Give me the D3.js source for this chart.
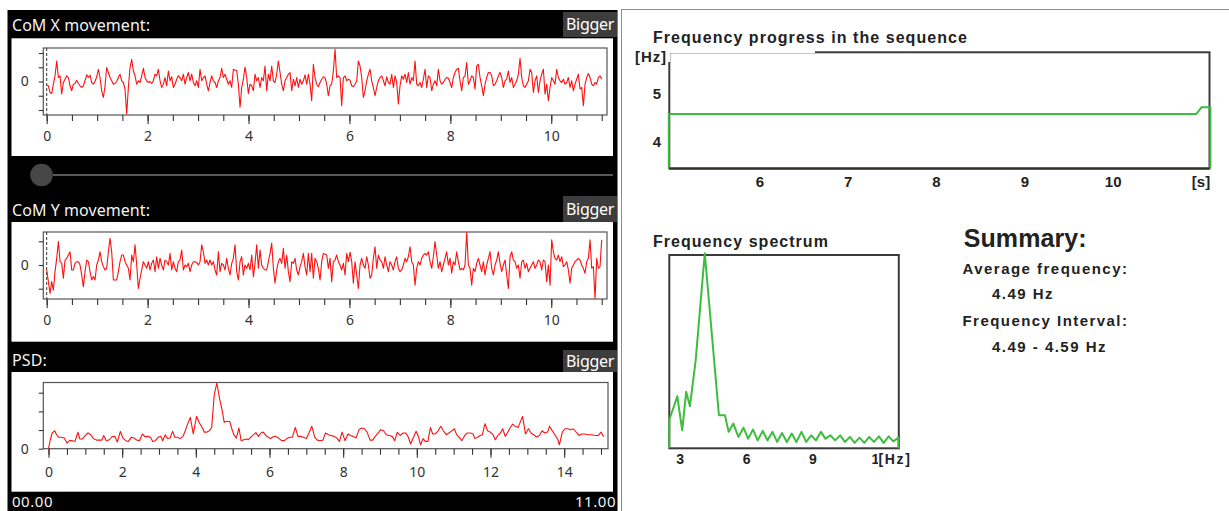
<!DOCTYPE html>
<html>
<head>
<meta charset="utf-8">
<script src="https://cdn.jsdelivr.net/npm/d3@7"></script>
<style>
  body { margin: 0; background: #fff; }
  svg { display: block; }
</style>
</head>
<body>
<svg id="chart" width="1229" height="511"></svg>
<script>
// ---- data ----
// CoM X / CoM Y, 11 s sampled evenly
var comDuration = 11;
var comX = [
  -0.26, -0.30, -0.77, -0.84, -0.19, 0.40, 1.44, 0.28, 0.40, -0.88, -0.07, 0.16, 0.40, 0.28, -0.30, -0.65, -0.19, -0.14, 0.09, -0.14,
  -0.30, -0.42, -0.30, 0.05, 0.47, 0.28, 0.44, -0.07, -0.19, 0, 0.33, 0.86, 0.28, -0.65, -1.12, -0.30, 0.98, 0.63, 0.28, 0.05,
  -0.19, -0.14, 0, 0.28, 0.51, 0.05, -0.07, -0.53, -2.28, -0.42, 0.98, 1.56, 0.74, 0.40, -0.19, 0.05, -0.07, 0.40, 0.93, 0.28,
  0.05, -0.07, 0, -0.14, 0.05, 0.51, 0.40, 0.86, 0.05, -0.42, -0.19, 0.28, -0.30, 0.74, 0.05, 0.33, -0.42, -0.19, 0.16, 0.40,
  0.28, 0.05, 0.51, -0.19, 0.28, 0.63, 0.05, 0.51, -0.07, -0.30, 0.05, -0.42, 0.86, 0.05, 0.28, 0.40, -0.19, -0.65, -0.07, 0.40,
  0.05, -0.07, -0.42, 0.05, 0.28, 0.93, 0.28, 0.51, 0.16, -0.19, 0.05, -0.42, 0.86, 0.79, 0.79, -0.19, -1.81, -0.42, 0.16, 1.02,
  0.28, -0.84, -0.19, -0.30, -0.65, 0.51, 0.05, 0.28, -0.42, 0.28, 0.05, 1.09, -0.65, 0.51, 0.05, 1.09, 0.05, -0.07, 0.51, 1.44,
  0.63, -0.19, -0.65, 0.05, 0.28, 0.51, 0.63, -0.65, 0.16, -0.30, 0.28, -0.42, 0.16, -0.19, 0.05, 0.47, -0.19, 0.51, -0.19, -1.35,
  1.21, 0.28, -0.19, -0.37, -0.07, 0.16, 0.33,
  0.28, -0.19, -1.00, -0.30, -0.19, 0.74, 2.26, 0.28, 0.40, 0.28, -1.70, 0.28, 0.40, 0.05, 0.16, 0.09, -0.30, -0.37, -0.19, 0.05,
  1.44, 1.09, 0.28, -1.12, -0.65, 0.05, 0.51, 0.86, 0.05, -0.42, -1.00, -0.42, 0.05, 0.28, 0.40, 0.05, -0.30, 0.33, -0.07, -0.19,
  0.51, -0.42, 0.40, -0.07, -1.58, -0.30, 0.40, 0.16, 0.51, -0.07, 0.63, -0.19, 0.28, 0.05, 1.44, -0.19, -0.30, -0.07, -0.42, 0.16,
  0.86, -0.42, 0.40, 0.28, -0.65, -0.19, 0.05, -0.30, 0.86, 0.05, -0.19, -0.07, 0.16, 0.28, 0.23, -0.07, -0.42, 0.28, 0.63, 0.86,
  0.93, 0.05, -0.65, 0.28, 0.40, 1.33, -0.19, 0.05, 0.40, 0.28, -0.53, 1.09, 1.21, 0.28, -0.30, -1.00, -0.19, 0.28, 0.63, 0.63,
  0.40, -0.30, -0.19, 0.05, 0.40, 0.63, 0.28, -0.42, 0.05, 0.16, 0.74, -0.07, 0.28, -0.42, -0.19, 0.05, 0.51, 1.63, 0.28, -0.30,
  -0.42, -0.19, 0.05, 0.86, 0.63, -0.77, 0.05, 0.40, -0.77, 0.05, 0.51, 0.86, -0.88, -0.19, -1.35, -0.42, 0.28, 0.05, -0.19, 0.86,
  0.28, 0.05, -0.07, 0.16, -0.19, -0.07, 0.28, -0.42, 0.05, -0.65, -0.19, 0.16, 0.51, -0.53, -0.42, -1.70, -0.19, 0.28, 0.56, 0.28,
  -0.19, -0.30, -0.07, -0.19, 0.28, 0.40, 0.16
];
var comY = [
  -0.21, -0.70, -1.20, -0.70, -1.06, -0.28, 0.28, 0.99, 0.14, 0.07, -0.56, 0.21, 0.28, 0.42, 0.56, -0.21, -0.21, 0.07, 0.14, 0.14,
  0, -0.42, -0.92, -0.28, 0.21, 0.14, -0.28, -0.63, -0.49, -0.63, 0, 0.21, 0.56, 0.14, -0.07, -0.21, -0.14, 0.56, 1.13, 0.56,
  -0.63, -0.63, -0.63, -0.28, 0.14, 0.42, 0.42, 0.14, 0, -0.14, -0.63, 0.42, 0.14, 0.85, 0, -0.99, -0.56, -0.21, 0.14, 0,
  -0.14, 0.14, -0.21, 0.07, 0.21, -0.28, 0.35, -0.14, 0.28, 0, -0.21, 0.21, 0.14, 0, 0.49, -0.21, 0.14, -0.14, -0.28, 0.14,
  0.21, 0.63, -0.21, 0, -0.07, 0.07, -0.28, 0, 0.14, 0.14, 0.11, 0, 0.14, 0.85, 0.56, 0.07, 0.21, 0, 0.21, 0,
  0.14, -0.21, -0.42, 0.56, -0.28, 0.07, 0, -0.21, 0.28, -0.14, -0.42, 0.07, 0.28, 0.85, -0.28, -0.63, 0.14, 0.35, -0.42, 0,
  -0.14, 0.07, -0.21, 0.42, -0.49, 0.07, 0.85, -0.14, 0.63, 0, -0.14, -0.21, -0.21, 0.14, 0.49, 0.92, -0.14, -0.77, -0.21, 0.14,
  0.28, 0.07, 0.70, -0.14, 0.42, -0.28, -0.70, 0.14, 0.07, 0.28, -0.21, -0.42, -0.07, 0.14, 0.49, -0.07, -0.42, 0.49, -0.28, 0.49,
  -0.56, 0.28, 0.14, -0.14, -0.63, 0.14, 0.49, 0.45,
  0.42, -0.14, 0.28, -0.70, 0.14, 0.21, 0.42, 0.14, 0, -0.21, 0.07, -0.42, 0.49, 0.14, 0.54, 0.14, -0.77, 0.14, -0.42, -0.99,
  0, 0.28, 0, -0.14, 0.35, 0, -0.56, -0.42, 0.28, 0.77, -0.14, 0.42, 0.21, 0.14, -0.14, 0.35, 0, -0.28, 0.14, 0,
  -0.21, 0.14, 0.35, -0.14, -0.28, -0.21, 0, 0.28, 0.14, 0.35, 0.77, 0.14, 0, -0.85, -0.14, 0.14, 0, 0.28, 0.42, 0.49,
  0.42, 0.56, 0.14, -0.14, 0.35, 0.99, 0.42, -0.14, 0.14, -0.28, 0, 0.28, 0.56, 0, 0.28, -0.35, 0.14, 0, 0.56, 0.14,
  -0.21, -0.14, -0.21, 0, 1.38, 0, -0.14, -0.85, -0.14, -0.28, 0.07, 0.28, 0, -0.28, 0.14, -0.42, 0, 0.28, 0.56, -0.14,
  -0.42, 0, 0.21, 0.56, 0.07, -0.28, 0, 0.21, -0.42, -0.99, 0.35, 0.56, 0.21, 0.14, -0.14, 0, -0.56, 0.14, 0.21, -0.14,
  0.07, -0.28, -0.14, 0, 0.14, -0.14, 0, 0.21, 0.14, -0.21, 0.21, 0.14, -0.70, 0, -0.85, 1.06, 0.56, 0.28, 0.21, 0.42,
  0.14, 0.35, -0.07, 0, 0.14, -0.21, -0.77, -0.14, 0, 0.14, 0.21, 0.28, 0.21, 0, -0.14, -0.35, 0.14, 0.28, 1.06, -0.14,
  -0.07, -1.41, 0.28, -0.14, -0.07, 1.06
];

// PSD (Hz / power)
var psdFreq = [
  0.00, 0.05, 0.10, 0.17, 0.22, 0.27, 0.35, 0.43, 0.50, 0.57, 0.65, 0.72, 0.80, 0.85, 0.92, 1.00, 1.07, 1.15, 1.22, 1.30,
  1.37, 1.45, 1.50, 1.57, 1.65, 1.72, 1.80, 1.87, 1.95, 2.02, 2.10, 2.17, 2.25, 2.32, 2.40, 2.47, 2.55, 2.62, 2.70, 2.77,
  2.83, 2.90, 2.98, 3.05, 3.10, 3.17, 3.23, 3.30, 3.37, 3.43, 3.50, 3.57, 3.65, 3.70, 3.77, 3.85, 3.93, 4.02, 4.10, 4.17,
  4.23, 4.30, 4.37, 4.43, 4.50, 4.57, 4.65, 4.72, 4.77, 4.82, 4.87, 4.92, 4.97, 5.03, 5.10, 5.17, 5.23, 5.30, 5.37, 5.43,
  5.50, 5.57, 5.63, 5.70, 5.77, 5.83, 5.90, 5.97, 6.03, 6.10, 6.17, 6.25, 6.33, 6.40, 6.47, 6.55, 6.62, 6.70, 6.77, 6.85,
  6.92, 7.00, 7.07, 7.15, 7.23, 7.30, 7.37, 7.45, 7.52, 7.60, 7.67, 7.75, 7.83, 7.90, 7.97, 8.05, 8.13, 8.20, 8.27, 8.35,
  8.43, 8.50, 8.57, 8.65, 8.73, 8.80, 8.87, 8.95, 9.02, 9.10, 9.17, 9.25, 9.33, 9.40, 9.47, 9.55, 9.63, 9.70, 9.77, 9.83,
  9.90, 9.98, 10.05, 10.10, 10.17, 10.23, 10.30, 10.37, 10.43, 10.50, 10.57, 10.65, 10.72, 10.80, 10.87, 10.93, 11.02, 11.08, 11.15, 11.22,
  11.30, 11.37, 11.45, 11.52, 11.58, 11.65, 11.72, 11.78, 11.85, 11.92, 12.00, 12.07, 12.13, 12.20, 12.27, 12.33, 12.40, 12.47, 12.53, 12.60,
  12.67, 12.75, 12.87, 12.95, 13.03, 13.10, 13.17, 13.25, 13.33, 13.40, 13.47, 13.55, 13.60, 13.67, 13.75, 13.83, 13.87, 13.95, 14.02, 14.10,
  14.17, 14.25, 14.33, 14.40, 14.47, 14.55, 14.65, 14.75, 14.85, 14.93, 15.00, 15.07
];
var psdPower = [
  0.00, 0.48, 0.84, 0.96, 0.75, 0.61, 0.61, 0.57, 0.30, 0.43, 0.43, 0.39, 0.88, 0.52, 0.52, 0.71, 0.84, 0.75, 0.54, 0.46,
  0.46, 0.46, 0.71, 0.43, 0.48, 0.64, 0.66, 0.36, 0.93, 0.57, 0.43, 0.39, 0.61, 0.57, 0.46, 0.43, 0.79, 0.64, 0.66, 0.61,
  0.38, 0.43, 0.61, 0.66, 0.43, 0.75, 0.55, 0.57, 0.93, 0.61, 0.61, 0.54, 0.66, 0.89, 1.29, 1.68, 0.79, 1.73, 1.38, 1.14,
  0.89, 0.89, 0.96, 1.14, 2.89, 3.52, 2.63, 2.00, 1.41, 1.46, 1.46, 1.46, 1.11, 0.75, 0.57, 1.11, 0.43, 0.48, 0.52, 0.48,
  0.63, 0.75, 0.86, 0.66, 0.84, 0.89, 0.71, 0.61, 0.55, 0.64, 0.66, 0.57, 0.43, 0.43, 0.54, 0.61, 0.61, 1.14, 0.66, 0.66,
  0.61, 0.55, 0.84, 1.20, 0.61, 0.46, 0.43, 0.46, 0.84, 0.75, 0.71, 0.66, 0.57, 0.39, 0.89, 0.43, 0.79, 0.71, 0.66, 0.57,
  1.02, 1.11, 1.07, 0.89, 0.46, 0.46, 0.66, 0.84, 1.02, 0.96, 0.75, 0.71, 0.66, 0.43, 0.88, 0.71, 0.84, 0.84, 0.61, 0.25,
  0.57, 0.93, 0.61, 0.21, 0.54, 0.39, 0.39, 1.14, 0.79, 0.79, 0.93, 1.20, 0.96, 0.75, 0.84, 0.93, 1.07, 0.75, 0.61, 0.43,
  0.71, 0.84, 0.84, 0.80, 0.54, 0.61, 0.71, 0.75, 1.34, 0.96, 0.88, 0.75, 0.48, 0.71, 0.84, 1.07, 0.66, 0.88, 1.11, 1.32,
  1.20, 1.14, 1.73, 0.79, 1.07, 0.84, 0.75, 0.63, 0.71, 0.96, 0.84, 0.89, 1.20, 0.98, 0.75, 0.48, 0.21, 0.89, 1.07, 1.07,
  1.02, 1.07, 0.88, 0.71, 0.79, 0.79, 0.75, 0.75, 0.71, 0.71, 0.89, 0.64
];

// frequency progress (s / Hz)
var progressTime = [4.97, 10.94, 11.00, 11.10];
var progressFreq = [4.58, 4.58, 4.72, 4.72];

// frequency spectrum (Hz / relative power)
var specFreq = [2.50, 2.51, 2.87, 3.09, 3.27, 3.44, 3.70, 4.11, 4.75, 5.02, 5.19, 5.40, 5.63, 5.86, 6.07, 6.29, 6.50, 6.73, 6.94, 7.17,
  7.38, 7.60, 7.82, 8.04, 8.25, 8.48, 8.69, 8.92, 9.13, 9.36, 9.56, 9.79, 10.00, 10.23, 10.44, 10.67, 10.88, 11.10, 11.32, 11.54,
  11.75, 11.98, 12.19, 12.42, 12.63, 12.86];
var specPower = [0, 0.149, 0.269, 0.093, 0.292, 0.218, 0.456, 1.009, 0.171, 0.171, 0.085, 0.128, 0.059, 0.107, 0.050, 0.097, 0.041, 0.090, 0.041, 0.085,
  0.033, 0.079, 0.033, 0.076, 0.033, 0.085, 0.033, 0.067, 0.041, 0.085, 0.050, 0.067, 0.041, 0.067, 0.033, 0.059, 0.028, 0.055, 0.028, 0.059,
  0.033, 0.062, 0.028, 0.062, 0.036, 0.055];

var timeLabels = [0, 2, 4, 6, 8, 10];
var psdLabels = [0, 2, 4, 6, 8, 10, 12, 14];
var progressLabels = [6, 7, 8, 9, 10];
var specLabels = [3, 6, 9, 12];
var summaryLabels = ["Average frequency:", "Frequency Interval:"];
var summaryValues = ["4.49 Hz", "4.49 - 4.59 Hz"];

var leftFont = "'Noto Sans', 'Open Sans', sans-serif";
var rightFont = "'Liberation Sans', Arial, sans-serif";

var svg = d3.select("#chart");

// spread letters so a text ends where it does in the picture
function fitText(sel, width) {
    var w = sel.node().getComputedTextLength();
    var n = sel.text().length;
    sel.attr("letter-spacing", ((width - w) / n).toFixed(2));
    return sel;
}

//left black panel
svg.append("rect").attr("x", 7.5).attr("y", 10).attr("width", 610).attr("height", 501).attr("fill", "#000");

function signalPanel(o) {
    var g = svg.append("g");

    fitText(g.append("text")
        .attr("x", 12).attr("y", o.titleY).attr("dy", "0.36em")
        .attr("fill", "#f2f2f2").attr("font-family", leftFont).attr("font-size", 16)
        .text(o.title), o.titleW);

    // "Bigger" button
    g.append("rect").attr("x", 563).attr("y", o.btn[0]).attr("width", 54).attr("height", o.btn[1] - o.btn[0])
        .attr("fill", "#3d3d3d");
    fitText(g.append("text")
        .attr("x", 566).attr("y", (o.btn[0] + o.btn[1]) / 2).attr("dy", "0.36em")
        .attr("fill", "#fff").attr("font-family", leftFont).attr("font-size", 16)
        .text("Bigger"), 48);

    g.append("rect").attr("x", 11.5).attr("y", o.white[0]).attr("width", 601.5).attr("height", o.white[1] - o.white[0])
        .attr("fill", "#fff");

    var x = d3.scaleLinear().domain(o.xDomain).range(o.xRange);
    var y = d3.scaleLinear().domain(o.yDomain).range(o.yRange);

    g.append("rect").attr("x", 43.3).attr("y", o.frame[0]).attr("width", o.frameRight - 43.3).attr("height", o.frame[1] - o.frame[0])
        .attr("fill", "none").attr("stroke", "#555").attr("stroke-width", 1.2);

    if (o.cursor) {
        g.append("line").attr("x1", x(0)).attr("x2", x(0)).attr("y1", o.frame[0]).attr("y2", o.frame[1])
            .attr("stroke", "#333").attr("stroke-width", 1).attr("stroke-dasharray", "3,2");
    }

    var line = d3.line()
        .x(function (d, i) { return x(o.xs(i)); })
        .y(function (d) { return y(d); });
    g.append("path").datum(o.values)
        .attr("d", line).attr("fill", "none")
        .attr("stroke", "#ff1010").attr("stroke-width", 1.1).attr("stroke-linejoin", "round");

    // x axis: minor ticks every 0.5, longer labelled ticks
    var minor = d3.range(o.xDomain[0], o.xDomain[1] + 0.01, 0.5);
    var ax1 = g.append("g").attr("transform", "translate(0," + o.frame[1] + ")")
        .call(d3.axisBottom(x).tickValues(minor).tickSize(6).tickSizeOuter(0).tickFormat(""));
    var ax2 = g.append("g").attr("transform", "translate(0," + o.frame[1] + ")")
        .call(d3.axisBottom(x).tickValues(o.labels).tickSize(9).tickPadding(o.pad).tickSizeOuter(0).tickFormat(d3.format("d")));
    var ay = g.append("g").attr("transform", "translate(43.3,0)")
        .call(d3.axisLeft(y).tickValues(o.yTicks).tickSize(4.5).tickPadding(10).tickSizeOuter(0)
            .tickFormat(function (d) { return d === 0 ? "0" : ""; }));
    [ax1, ax2, ay].forEach(function (a) {
        a.select(".domain").remove();
        a.selectAll("line").attr("stroke", "#333").attr("stroke-width", 1.1);
        a.selectAll("text").attr("fill", "#333").attr("font-family", leftFont).attr("font-size", 14);
    });
}

signalPanel({
    title: "CoM X movement:", titleY: 25, titleW: 138, btn: [12, 37], white: [38.3, 156],
    frame: [48, 115], frameRight: 607, xDomain: [0, 11], xRange: [46.7, 601.7],
    yDomain: [-2, 2], yRange: [110, 53], yTicks: [-2, -1, 0, 1, 2], labels: timeLabels, pad: 7,
    values: comX, xs: function (i) { return i * comDuration / (comX.length - 1); }, cursor: true
});

// slider
svg.append("line").attr("x1", 53).attr("x2", 613).attr("y1", 175).attr("y2", 175)
    .attr("stroke", "#585858").attr("stroke-width", 2);
svg.append("circle").attr("cx", 41.5).attr("cy", 175).attr("r", 11.3).attr("fill", "#474747");

signalPanel({
    title: "CoM Y movement:", titleY: 210, titleW: 138, btn: [196, 222], white: [222, 341.7],
    frame: [232, 299], frameRight: 607, xDomain: [0, 11], xRange: [46.7, 601.7],
    yDomain: [-1, 1], yRange: [288.7, 241.3], yTicks: [-1, 0, 1], labels: timeLabels, pad: 7,
    values: comY, xs: function (i) { return i * comDuration / (comY.length - 1); }, cursor: true
});

signalPanel({
    title: "PSD:", titleY: 360, titleW: 35, btn: [350, 372], white: [372, 491.7],
    frame: [382.5, 448.7], frameRight: 608, xDomain: [0, 15], xRange: [48.5, 601],
    yDomain: [0, 3], yRange: [448.7, 392.7], yTicks: [0, 1, 2, 3], labels: psdLabels, pad: 9,
    values: psdPower, xs: function (i) { return psdFreq[i]; }, cursor: false
});

// time readout under the panels
fitText(svg.append("text").attr("x", 12).attr("y", 501.5).attr("dy", "0.36em")
    .attr("fill", "#f2f2f2").attr("font-family", leftFont).attr("font-size", 15).text("00.00"), 41);
fitText(svg.append("text").attr("x", 575).attr("y", 501.5).attr("dy", "0.36em")
    .attr("fill", "#f2f2f2").attr("font-family", leftFont).attr("font-size", 15).text("11.00"), 41);

// ---- right panel ----
svg.append("line").attr("x1", 621).attr("x2", 1229).attr("y1", 9.5).attr("y2", 9.5).attr("stroke", "#8c8c8c");
svg.append("line").attr("x1", 621.5).attr("x2", 621.5).attr("y1", 9.5).attr("y2", 511).attr("stroke", "#8c8c8c");

var green = "#3dbd3d";
var ink = "#222";

function boldText(x, y, txt, size, width, anchor) {
    var t = svg.append("text").attr("x", x).attr("y", y).attr("dy", "0.36em")
        .attr("fill", ink).attr("font-family", rightFont).attr("font-weight", "bold")
        .attr("font-size", size).attr("text-anchor", anchor || "start").text(txt);
    if (width) fitText(t, width);
    return t;
}

// frequency progress in the sequence
var px = d3.scaleLinear().domain([6, 10]).range([759.8, 1113.2]);
var py = d3.scaleLinear().domain([4, 5]).range([141.7, 94]);
var pFrame = { l: 669.3, r: 1209.5, t: 52.3, b: 168.3 };

boldText(653, 37.5, "Frequency progress in the sequence", 16, 315);
svg.append("rect").attr("x", pFrame.l).attr("y", pFrame.t).attr("width", pFrame.r - pFrame.l).attr("height", pFrame.b - pFrame.t)
    .attr("fill", "none").attr("stroke", "#3a3a3a").attr("stroke-width", 2);

var progPts = [[px(progressTime[0]), pFrame.b]]
    .concat(progressTime.map(function (t, i) { return [px(t), py(progressFreq[i])]; }))
    .concat([[px(progressTime[progressTime.length - 1]), pFrame.b]]);
svg.append("path").attr("d", d3.line()(progPts)).attr("fill", "none").attr("stroke", green).attr("stroke-width", 2);
svg.append("line").attr("x1", pFrame.l).attr("x2", pFrame.r).attr("y1", pFrame.b + 0.5).attr("y2", pFrame.b + 0.5)
    .attr("stroke", "#2a3a2a").attr("stroke-width", 2);

// label covers the corner of the frame
svg.append("rect").attr("x", 664).attr("y", 46).attr("width", 151).attr("height", 7).attr("fill", "#fff");
svg.append("rect").attr("x", 633).attr("y", 46).attr("width", 37).attr("height", 16).attr("fill", "#fff");
boldText(635, 57, "[Hz]", 15, 32);

progressLabels.forEach(function (v) {
    boldText(px(v), 181.7, String(v), 15, null, "middle");
});
boldText(1201, 181.7, "[s]", 15, null, "middle");
[5, 4].forEach(function (v) {
    boldText(657, py(v), String(v), 15, null, "middle");
});

// frequency spectrum
var sx = d3.scaleLinear().domain([3, 9]).range([680.2, 813]);
var sy = d3.scaleLinear().domain([0, 1]).range([448.3, 255]);
var sFrame = { l: 669.3, r: 898.8, t: 255, b: 448.3 };

boldText(653, 241.7, "Frequency spectrum", 16, 176);
svg.append("rect").attr("x", sFrame.l).attr("y", sFrame.t).attr("width", sFrame.r - sFrame.l).attr("height", sFrame.b - sFrame.t)
    .attr("fill", "none").attr("stroke", "#3a3a3a").attr("stroke-width", 2);

var specPts = specFreq.map(function (f, i) { return [sx(f), sy(specPower[i])]; })
    .concat([[sx(specFreq[specFreq.length - 1]), sy(0)]]);
svg.append("path").attr("d", d3.line()(specPts)).attr("fill", "none").attr("stroke", green).attr("stroke-width", 2)
    .attr("stroke-linejoin", "round");

// last tick label sits under the unit, as in the source
specLabels.forEach(function (v) {
    boldText(sx(v), 459.3, String(v), 14, null, "middle");
});
svg.append("rect").attr("x", 878).attr("y", 450).attr("width", 35).attr("height", 18).attr("fill", "#fff");
boldText(878.5, 459.3, "[Hz]", 14, 33);

// summary
boldText(963.7, 238.3, "Summary:", 25, 123);
boldText(962.5, 268.3, summaryLabels[0], 15, 166);
boldText(992, 294, summaryValues[0], 15, 62);
boldText(962.5, 320.5, summaryLabels[1], 15, 166);
boldText(992, 347, summaryValues[1], 15, 115);
</script>
</body>
</html>
